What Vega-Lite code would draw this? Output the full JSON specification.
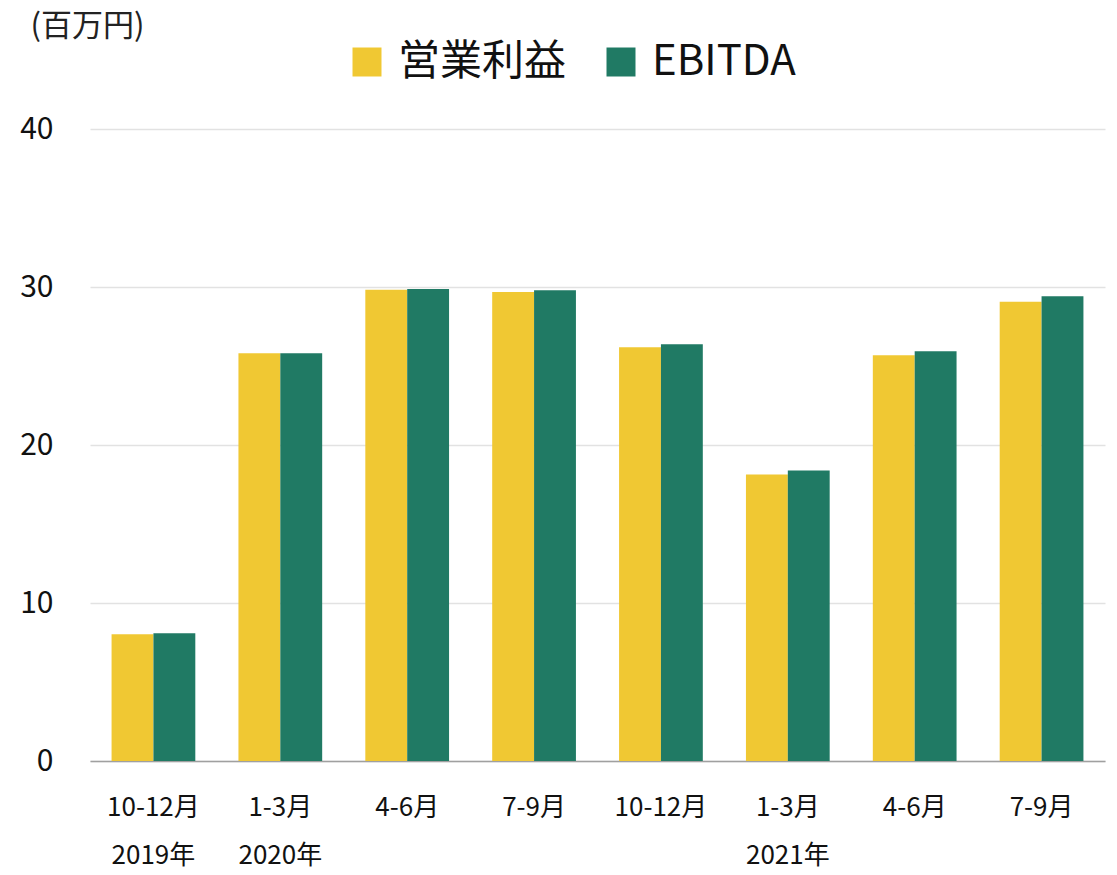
{
  "$schema": "https://vega.github.io/schema/vega-lite/v6.json",
  "width": 1015,
  "height": 632,
  "autosize": {"type": "none"},
  "padding": {"left": 90, "top": 129, "right": 12, "bottom": 114},
  "background": "#ffffff",
  "config": {
    "font": "Noto Sans CJK JP",
    "view": {"stroke": null}
  },
  "data": {
    "values": [
      {"期間": "2019年10-12月", "系列": "営業利益", "値": 8.03},
      {"期間": "2019年10-12月", "系列": "EBITDA", "値": 8.08},
      {"期間": "2020年1-3月", "系列": "営業利益", "値": 25.8},
      {"期間": "2020年1-3月", "系列": "EBITDA", "値": 25.8},
      {"期間": "2020年4-6月", "系列": "営業利益", "値": 29.83},
      {"期間": "2020年4-6月", "系列": "EBITDA", "値": 29.88},
      {"期間": "2020年7-9月", "系列": "営業利益", "値": 29.69},
      {"期間": "2020年7-9月", "系列": "EBITDA", "値": 29.8},
      {"期間": "2020年10-12月", "系列": "営業利益", "値": 26.18},
      {"期間": "2020年10-12月", "系列": "EBITDA", "値": 26.37},
      {"期間": "2021年1-3月", "系列": "営業利益", "値": 18.14},
      {"期間": "2021年1-3月", "系列": "EBITDA", "値": 18.39},
      {"期間": "2021年4-6月", "系列": "営業利益", "値": 25.68},
      {"期間": "2021年4-6月", "系列": "EBITDA", "値": 25.93},
      {"期間": "2021年7-9月", "系列": "営業利益", "値": 29.07},
      {"期間": "2021年7-9月", "系列": "EBITDA", "値": 29.42}
    ]
  },
  "mark": {"type": "bar"},
  "encoding": {
    "x": {
      "field": "期間",
      "type": "nominal",
      "sort": null,
      "scale": {"paddingInner": 0.34, "paddingOuter": 0.17},
      "axis": {
        "title": null,
        "labelAngle": 0,
        "labelFontSize": 26,
        "labelColor": "#111111",
        "labelPadding": 33,
        "labelBaseline": "top",
        "labelLineHeight": 48,
        "labelExpr": "[slice(datum.value, 5), (indexof(datum.value, '2019') == 0 || indexof(datum.value, '年1-3月') > 0) ? slice(datum.value, 0, 5) : '']",
        "ticks": false,
        "domain": true,
        "domainColor": "#a0a0a0",
        "domainWidth": 1.5,
        "grid": false
      }
    },
    "xOffset": {"field": "系列", "type": "nominal", "sort": ["営業利益", "EBITDA"]},
    "y": {
      "field": "値",
      "type": "quantitative",
      "scale": {"domain": [0, 40]},
      "axis": {
        "values": [0, 10, 20, 30, 40],
        "title": "(百万円)",
        "titleAngle": 0,
        "titleAlign": "left",
        "titleBaseline": "alphabetic",
        "titleX": -60,
        "titleY": -94,
        "titleFontSize": 31,
        "titleFontWeight": "normal",
        "titleColor": "#222222",
        "labelFontSize": 30,
        "labelColor": "#111111",
        "labelPadding": 37,
        "ticks": false,
        "domain": false,
        "grid": true,
        "gridColor": "#e2e2e2",
        "gridWidth": 1.5
      }
    },
    "color": {
      "field": "系列",
      "type": "nominal",
      "sort": ["営業利益", "EBITDA"],
      "scale": {"domain": ["営業利益", "EBITDA"], "range": ["#F0C833", "#207A64"]},
      "legend": {
        "title": null,
        "orient": "none",
        "direction": "horizontal",
        "legendX": 256,
        "legendY": -88,
        "symbolType": "square",
        "symbolSize": 841,
        "symbolStrokeWidth": 0,
        "labelFontSize": 42,
        "labelLimit": 400,
        "labelColor": "#111111",
        "labelOffset": 10,
        "columnPadding": 33
      }
    }
  }
}
